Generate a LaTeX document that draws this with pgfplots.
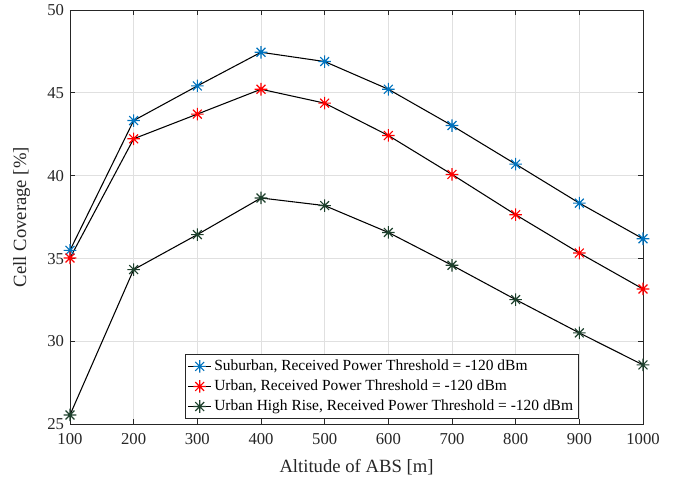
\documentclass[border=0pt]{standalone}
\usepackage{fontspec}
\setmainfont{Liberation Serif}
\usepackage{pgfplots}
\pgfplotsset{compat=1.18}
\definecolor{mblue}{rgb}{0,0.447,0.741}
\definecolor{mred}{rgb}{1,0,0}
\definecolor{mgreen}{RGB}{30,65,45}
\definecolor{axgray}{rgb}{0.15,0.15,0.15}
\pgfdeclareplotmark{mstar}{%
  \pgfpathmoveto{\pgfqpoint{-\pgfplotmarksize}{0pt}}%
  \pgfpathlineto{\pgfqpoint{\pgfplotmarksize}{0pt}}%
  \pgfpathmoveto{\pgfqpoint{0pt}{-\pgfplotmarksize}}%
  \pgfpathlineto{\pgfqpoint{0pt}{\pgfplotmarksize}}%
  \pgfpathmoveto{\pgfqpoint{-0.707\pgfplotmarksize}{-0.707\pgfplotmarksize}}%
  \pgfpathlineto{\pgfqpoint{0.707\pgfplotmarksize}{0.707\pgfplotmarksize}}%
  \pgfpathmoveto{\pgfqpoint{-0.707\pgfplotmarksize}{0.707\pgfplotmarksize}}%
  \pgfpathlineto{\pgfqpoint{0.707\pgfplotmarksize}{-0.707\pgfplotmarksize}}%
  \pgfusepathqstroke}
\begin{document}
\begin{tikzpicture}
\path[use as bounding box] (-52.5pt,-43.95pt) rectangle (460.5pt,318.3pt);
\begin{axis}[
  scale only axis,
  width=429.75pt, height=310.8pt,
  xmin=100, xmax=1000, ymin=25, ymax=50,
  xtick={100,200,...,1000}, ytick={25,30,...,50},
  grid=major,
  major grid style={draw=black!12, line width=0.6pt},
  axis line style={draw=axgray, line width=0.6pt},
  tick style={draw=axgray, line width=0.6pt},
  tick align=inside,
  major tick length=4pt,
  xticklabel style={font=\fontsize{12.5}{14}\selectfont, text=axgray, yshift=-3.5pt},
  yticklabel style={font=\fontsize{12.5}{14}\selectfont, text=axgray, xshift=-1pt},
  /pgf/number format/assume math mode=true,
  /pgf/number format/1000 sep={},
  xlabel={Altitude of ABS [m]},
  ylabel={Cell Coverage [\%]},
  label style={font=\fontsize{14}{16}\selectfont, text=axgray},
  xlabel style={yshift=-4pt},
  ylabel style={yshift=6pt},
  legend style={at={(0.888,0.014)}, anchor=south east, font=\fontsize{11.6}{13}\selectfont,
    draw=axgray, line width=0.6pt, inner sep=2pt, row sep=1.5pt,
    cells={anchor=west}},
]
\addplot[black, line width=0.8pt, mark=mstar, mark size=4.7pt,
  mark options={draw=mblue, line width=0.85pt}]
coordinates {(100,35.5)(200,43.33)(300,45.42)(400,47.45)(500,46.89)(600,45.22)(700,43.03)(800,40.7)(900,38.35)(1000,36.2)};
\addlegendentry{Suburban, Received Power Threshold = -120 dBm}
\addplot[black, line width=0.8pt, mark=mstar, mark size=4.7pt,
  mark options={draw=mred, line width=0.85pt}]
coordinates {(100,35.04)(200,42.23)(300,43.72)(400,45.22)(500,44.38)(600,42.43)(700,40.08)(800,37.65)(900,35.34)(1000,33.17)};
\addlegendentry{Urban, Received Power Threshold = -120 dBm}
\addplot[black, line width=0.8pt, mark=mstar, mark size=4.7pt,
  mark options={draw=mgreen, line width=0.85pt}]
coordinates {(100,25.57)(200,34.34)(300,36.45)(400,38.66)(500,38.2)(600,36.58)(700,34.6)(800,32.53)(900,30.52)(1000,28.59)};
\addlegendentry{Urban High Rise, Received Power Threshold = -120 dBm}
\end{axis}
\end{tikzpicture}
\end{document}
